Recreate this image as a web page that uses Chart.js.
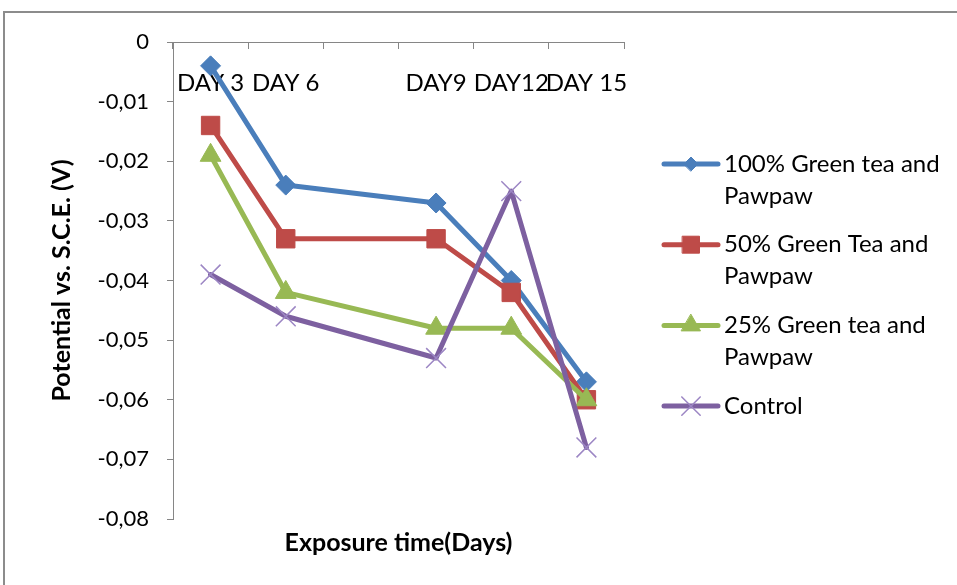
<!DOCTYPE html>
<html>
<head>
<meta charset="utf-8">
<script src="https://cdn.jsdelivr.net/npm/chart.js@4/dist/chart.umd.min.js"></script>
<style>
html,body{margin:0;padding:0;background:#fff;overflow:hidden}
#frame{position:absolute;left:3px;top:11px;width:1000px;height:1000px;border:2px solid #8c8c8c;box-sizing:border-box}
#wrap{position:absolute;left:0;top:0;width:957px;height:585px}
</style>
</head>
<body>
<div id="frame"></div>
<div id="wrap"><canvas id="ch-potential" width="957" height="585"></canvas></div>
<script>
/* ---------- data ---------- */
// third category is an empty slot on the Excel axis (no label, no point)
const days=['DAY 3','DAY 6','','DAY9','DAY12','DAY 15'];
const tea100=[-0.004,-0.024,null,-0.027,-0.040,-0.057];
const tea50=[-0.014,-0.033,null,-0.033,-0.042,-0.060];
const tea25=[-0.019,-0.042,null,-0.048,-0.048,-0.060];
const control=[-0.039,-0.046,null,-0.053,-0.025,-0.068];
const seriesNames=[['100% Green tea and','Pawpaw'],['50% Green Tea and','Pawpaw'],['25% Green tea and','Pawpaw'],['Control']];
const yTicks={min:-0.08,max:0,step:0.01};

const FONT='Lato';
const fmtTick=v=>{const r=Math.round(v*100)/100;return r===0?'0':r.toFixed(2).replace('.',',');};

/* ---------- legend (two-line labels like the Excel one) ---------- */
const sideLegend={
  id:'sideLegend',
  afterDraw(chart){
    const ctx=chart.ctx,x0=664,x1=718,tx=724;
    let y=164;
    chart.data.datasets.forEach((ds,i)=>{
      ctx.save();
      ctx.strokeStyle=ds.borderColor;ctx.lineWidth=ds.borderWidth;ctx.lineCap='round';
      ctx.beginPath();ctx.moveTo(x0,y);ctx.lineTo(x1,y);ctx.stroke();
      ctx.fillStyle=ds.pointBackgroundColor;ctx.strokeStyle=ds.pointBorderColor;ctx.lineWidth=ds.pointBorderWidth;
      Chart.helpers.drawPoint(ctx,{pointStyle:ds.pointStyle,radius:ds.legendRadius,borderWidth:ds.pointBorderWidth,rotation:0},(x0+x1)/2,y);
      ctx.fillStyle='#000';ctx.font='24px '+FONT;ctx.textBaseline='middle';ctx.textAlign='left';
      seriesNames[i].forEach((t,k)=>ctx.fillText(t,tx,y+k*32));
      ctx.restore();
      y+=80.7;
    });
  }
};

function line(label,data,color,style,r,lr,extra){
  return Object.assign({label,data,borderColor:color,backgroundColor:color,borderWidth:5,
    pointStyle:style,pointRadius:r,pointHoverRadius:r,legendRadius:lr,
    pointBackgroundColor:color,pointBorderColor:color,pointBorderWidth:1,
    tension:0,spanGaps:true,borderJoinStyle:'round',borderCapStyle:'round'},extra||{});
}

new Chart(document.getElementById('ch-potential'),{
  type:'line',
  data:{labels:days,datasets:[
    line(seriesNames[0].join(' '),tea100,'#4A7EBB','rectRot',10,7,{order:4}),
    line(seriesNames[1].join(' '),tea50,'#BE4B48','rect',13,12,{order:3}),
    line(seriesNames[2].join(' '),tea25,'#98B954','triangle',12,11,{order:2}),
    line(seriesNames[3].join(' '),control,'#7D60A0','crossRot',14,13,{order:1,pointBorderColor:'#9C86C4',pointBorderWidth:1.5})
  ]},
  options:{
    responsive:false,animation:false,
    layout:{padding:{left:0,top:0,right:333,bottom:0}},
    plugins:{legend:{display:false},tooltip:{enabled:false}},
    scales:{
      // Excel draws this axis at y=0 (the top) with its labels hanging inside the plot
      x:{type:'category',position:'top',offset:true,
        grid:{drawOnChartArea:false,offset:true,tickLength:-7,color:'#868686'},
        border:{color:'#868686'},
        ticks:{autoSkip:false,maxRotation:0,mirror:true,padding:27,color:'#000',font:{family:FONT,size:24}},
        afterFit:s=>{s.height=42;}},
      x2:{type:'category',position:'bottom',
        grid:{display:false},border:{display:false},ticks:{display:false},
        title:{display:true,text:'Exposure time(Days)',color:'#000',font:{family:FONT,size:25,weight:'bold'},padding:{top:0,bottom:27}},
        afterFit:s=>{s.height=66;}},
      y:{min:yTicks.min,max:yTicks.max,
        ticks:{stepSize:yTicks.step,padding:18,color:'#000',font:{family:FONT,size:22},callback:v=>fmtTick(v)},
        grid:{drawOnChartArea:false,tickLength:6,color:'#868686'},
        border:{color:'#868686'},
        title:{display:true,text:'Potential vs. S.C.E. (V)',color:'#000',font:{family:FONT,size:25,weight:'bold'},padding:{top:47,bottom:0}},
        afterFit:s=>{s.width=173;}}
    }
  },
  plugins:[sideLegend]
});
</script>
</body>
</html>
